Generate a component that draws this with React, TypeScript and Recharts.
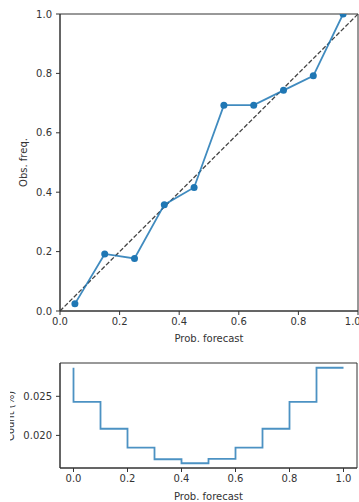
import React from "react";
import {
  LineChart,
  Line,
  XAxis,
  YAxis,
  ReferenceLine,
  ReferenceArea,
} from "recharts";

// reliability diagram: observed frequency per forecast bin
const binCenters = [0.05, 0.15, 0.25, 0.35, 0.45, 0.55, 0.65, 0.75, 0.85, 0.95];
const obsFreq = [0.024, 0.192, 0.177, 0.358, 0.416, 0.693, 0.693, 0.743, 0.792, 1.0];
const probTicks = [0, 0.2, 0.4, 0.6, 0.8, 1.0];
const freqTicks = [0, 0.2, 0.4, 0.6, 0.8, 1.0];

// forecast histogram (step, drawn "pre")
const histEdges = [0, 0.1, 0.2, 0.3, 0.4, 0.5, 0.6, 0.7, 0.8, 0.9, 1.0];
const countPct = [0.02865, 0.02428, 0.02085, 0.01843, 0.01695, 0.01644, 0.01699, 0.01843, 0.02085, 0.02428, 0.02865];
const countTicks = [0.02, 0.025];

const calib = binCenters.map((p, i) => ({ p, obs: obsFreq[i] }));
const hist = histEdges.map((p, i) => ({ p, count: countPct[i] }));

const FONT = "DejaVu Sans";
const INK = "#333";
const BLUE = "#1f77b4";
const tickStyle = { fontSize: 10, fill: INK, fontFamily: FONT };

export default function App() {
  return (
    <div style={{ position: "absolute", left: 0, top: 0, width: 359, height: 502, background: "#fff" }}>
      <div style={{ position: "absolute", left: 0, top: 0 }}>
        <LineChart width={359} height={345} data={calib} margin={{ top: 14, right: 1, left: 0, bottom: 0 }}>
          <ReferenceArea x1={0} x2={1} y1={0} y2={1} fill="none" stroke={INK} strokeWidth={1} />
          <XAxis
            dataKey="p"
            type="number"
            domain={[0, 1]}
            ticks={probTicks}
            allowDataOverflow
            tickFormatter={(v: number) => v.toFixed(1)}
            tick={tickStyle}
            tickSize={4}
            tickMargin={3}
            height={34}
            stroke={INK}
            label={{ value: "Prob. forecast", position: "insideBottom", offset: 3, fontSize: 10, fill: INK, fontFamily: FONT }}
          />
          <YAxis
            type="number"
            domain={[0, 1]}
            ticks={freqTicks}
            allowDataOverflow
            tickFormatter={(v: number) => v.toFixed(1)}
            tick={tickStyle}
            tickSize={4}
            tickMargin={4}
            width={60}
            stroke={INK}
            label={() => (
              <text x={27} y={162.5} transform="rotate(-90, 27, 162.5)" textAnchor="middle" fontSize={10} fill={INK} fontFamily={FONT}>
                Obs. freq.
              </text>
            )}
          />
          <ReferenceLine
            segment={[{ x: 0, y: 0 }, { x: 1, y: 1 }]}
            stroke="#444"
            strokeWidth={1.3}
            strokeDasharray="4.5 2"
          />
          <Line
            dataKey="obs"
            stroke={BLUE}
            strokeOpacity={0.85}
            strokeWidth={1.8}
            dot={{ r: 3.5, fill: BLUE, stroke: "none", fillOpacity: 1, clipDot: true }}
            isAnimationActive={false}
          />
        </LineChart>
      </div>
      <div style={{ position: "absolute", left: 10, top: 345 }}>
        <LineChart width={349} height={157} data={hist} margin={{ top: 18, right: 2, left: 0, bottom: 0 }}>
          <ReferenceArea x1={-0.05} x2={1.05} y1={0.01583} y2={0.02926} fill="none" stroke={INK} strokeWidth={1} />
          <XAxis
            dataKey="p"
            type="number"
            domain={[-0.05, 1.05]}
            ticks={probTicks}
            allowDataOverflow
            tickFormatter={(v: number) => v.toFixed(1)}
            tick={tickStyle}
            tickSize={4}
            tickMargin={3}
            height={34}
            stroke={INK}
            label={{ value: "Prob. forecast", position: "insideBottom", offset: 2, fontSize: 10, fill: INK, fontFamily: FONT }}
          />
          <YAxis
            type="number"
            domain={[0.01583, 0.02926]}
            ticks={countTicks}
            allowDataOverflow
            tickFormatter={(v: number) => v.toFixed(3)}
            tick={tickStyle}
            tickSize={4}
            tickMargin={4}
            width={50}
            stroke={INK}
            label={() => (
              <text x={4} y={71} transform="rotate(-90, 4, 71)" textAnchor="middle" fontSize={10} fill={INK} fontFamily={FONT}>
                Count (%)
              </text>
            )}
          />
          <Line
            type="stepBefore"
            dataKey="count"
            stroke={BLUE}
            strokeOpacity={0.8}
            strokeWidth={1.8}
            dot={false}
            isAnimationActive={false}
          />
        </LineChart>
      </div>
    </div>
  );
}
